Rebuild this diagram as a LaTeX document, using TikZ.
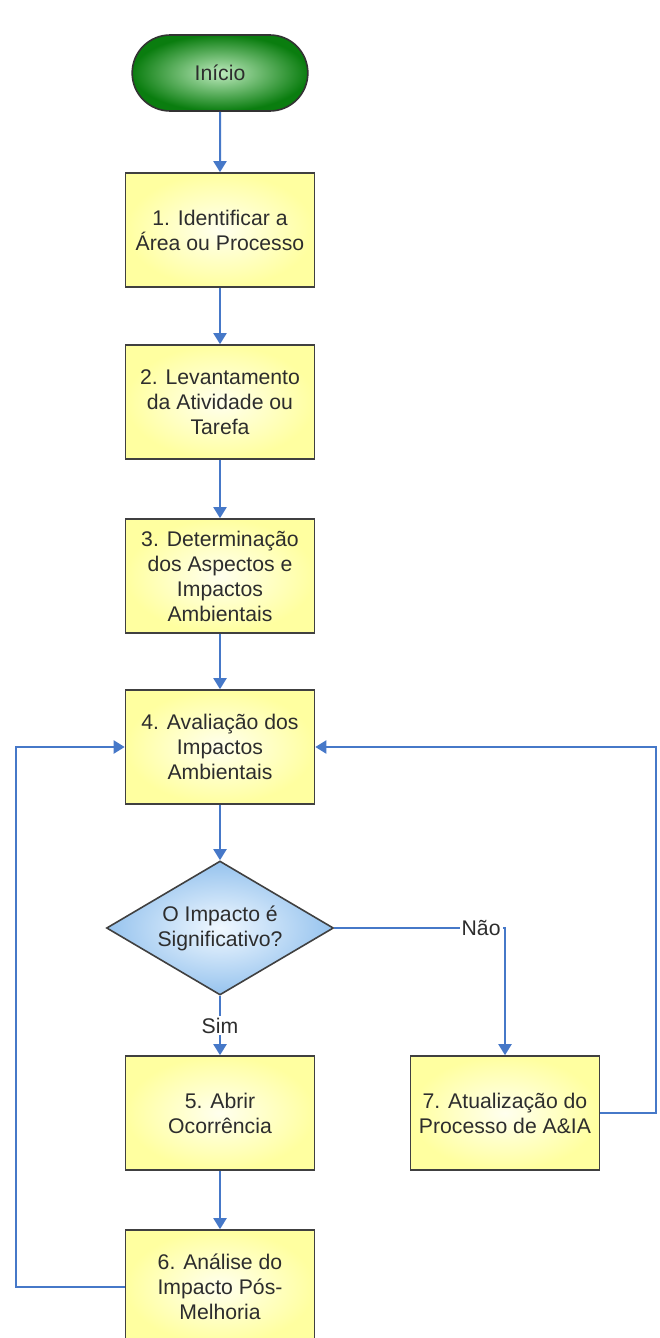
\documentclass[tikz,border=0pt]{standalone}
\usepackage{fontspec}
\setmainfont{Liberation Sans}
\usetikzlibrary{arrows.meta,shapes.geometric,shapes.misc}
\definecolor{linkblue}{RGB}{70,120,200}
\definecolor{txtgray}{RGB}{45,45,45}
\definecolor{boxout}{RGB}{255,255,160}
\definecolor{boxin}{RGB}{255,255,238}
\definecolor{decout}{RGB}{150,195,238}
\definecolor{decin}{RGB}{240,248,255}
\definecolor{greenout}{RGB}{10,125,15}
\definecolor{greenin}{RGB}{190,235,190}

\begin{document}
\begin{tikzpicture}[x=0.5pt, y=-0.5pt, >={Triangle[width=6.5pt,length=5.5pt]},
  every node/.style={font=\fontsize{10.6}{12.5}\selectfont, text=txtgray},
  passo/.style={rectangle, draw=black!75, line width=0.8pt, minimum width=94.5pt,
    minimum height=57pt, inner sep=0pt, align=center,
    inner color=boxin, outer color=boxout},
  inicio/.style={rounded rectangle, draw=black!80, line width=0.8pt,
    minimum width=94.5pt, minimum height=38pt, inner color=greenin,
    outer color=greenout},
  decisao/.style={diamond, draw=black!75, line width=0.8pt, aspect=1.7,
    minimum width=113.5pt, minimum height=67pt, inner sep=0pt, align=center,
    inner color=decin, outer color=decout},
  fluxo/.style={draw=linkblue, line width=1pt, ->},
  rotulo/.style={fill=white, inner sep=1pt}]
  \useasboundingbox (0,0) rectangle (659,1338);
  \clip (0,0) rectangle (659,1338);

  \node[inicio] (ini) at (220,73) {Início};
  \node[passo] (p1) at (220,230) {1. Identificar a\\Área ou Processo};
  \node[passo] (p2) at (220,402) {2. Levantamento\\da Atividade ou\\Tarefa};
  \node[passo] (p3) at (220,576) {3. Determinação\\dos Aspectos e\\Impactos\\Ambientais};
  \node[passo] (p4) at (220,747) {4. Avaliação dos\\Impactos\\Ambientais};
  \node[decisao] (dec) at (220,928) {O Impacto é\\Significativo?};
  \node[passo] (p5) at (220,1113) {5. Abrir\\Ocorrência};
  \node[passo] (p6) at (220,1287) {6. Análise do\\Impacto Pós-\\Melhoria};
  \node[passo] (p7) at (505,1113) {7. Atualização do\\Processo de A\&IA};

  \coordinate (esq) at (16,1287);
  \coordinate (dir) at (656,1113);

  \draw[fluxo] (ini) -- (p1);
  \draw[fluxo] (p1) -- (p2);
  \draw[fluxo] (p2) -- (p3);
  \draw[fluxo] (p3) -- (p4);
  \draw[fluxo] (p4) -- (dec);
  \draw[fluxo] (dec) -- node[rotulo] {Sim} (p5);
  \draw[fluxo] (dec.east) -| node[rotulo, pos=0.43] {Não} (p7.north);
  \draw[fluxo] (p5) -- (p6);
  \draw[fluxo] (p6.west) -- (esq) |- (p4.west);
  \draw[fluxo] (p7.east) -- (dir) |- (p4.east);
\end{tikzpicture}
\end{document}
